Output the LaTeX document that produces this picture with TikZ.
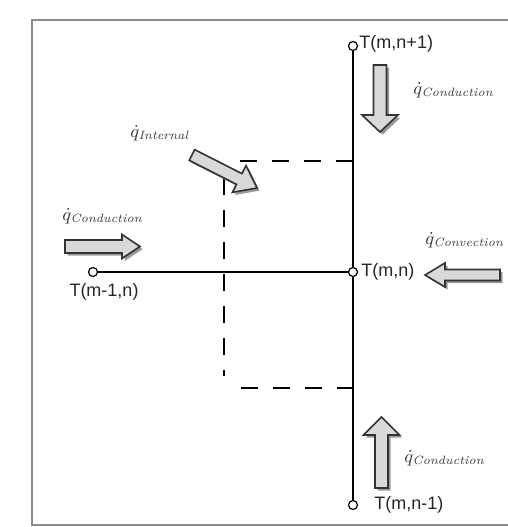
\documentclass[tikz,border=0pt]{standalone}
\usepackage{fontspec}
\newfontfamily\labelfont{Liberation Sans}
\usetikzlibrary{positioning}

% block arrow: #1 centre, #2 angle, #3 half length, #4 half shaft, #5 half head, #6 head length
\newcommand{\heatflow}[6]{%
  \fill[heatshadow, shift={#1}, xshift=1.3pt, yshift=-1.3pt, rotate=#2]
    (-#3,-#4) -- (#3-#6,-#4) -- (#3-#6,-#5) -- (#3,0pt) -- (#3-#6,#5) -- (#3-#6,#4) -- (-#3,#4) -- cycle;
  \filldraw[heat, shift={#1}, rotate=#2]
    (-#3,-#4) -- (#3-#6,-#4) -- (#3-#6,-#5) -- (#3,0pt) -- (#3-#6,#5) -- (#3-#6,#4) -- (-#3,#4) -- cycle;}

\begin{document}
\begin{tikzpicture}[
  x=0.5pt, y=-0.5pt, every node/.style={inner sep=0pt},
  pt/.style={circle, draw=black, fill=white, line width=0.6pt, minimum size=4.5pt},
  grid/.style={line width=1pt, black},
  cv/.style={line width=1pt, dash pattern=on 8.5pt off 7.5pt},
  heat/.style={draw=black!80, fill=black!15, line width=0.8pt, line join=miter},
  heatshadow/.style={fill=black!40},
  tlbl/.style={font=\labelfont\fontsize{9}{10}\selectfont, text=black!85},
  qlbl/.style={text=black!78, font=\fontsize{8.6}{10}\selectfont},
]
\clip (0,0) rectangle (508,527);
% frame
\draw[black!45, line width=1pt] (508,20) -- (32,20) -- (32,525) -- (508,525);
% grid points
\node[pt] (ctop)  at (353,46)  {};
\node[pt] (cmid)  at (353,272) {};
\node[pt] (cbot)  at (353,505) {};
\node[pt] (cleft) at (93,272)  {};
\draw[grid] (ctop) -- (cmid) -- (cbot);
\draw[grid] (cleft) -- (cmid);
% control volume
\draw[cv] (240,161) -- (353,161);
\draw[cv] (241,388) -- (353,388);
\draw[cv] (224,178) -- (224,376);
% node labels
\node[tlbl, anchor=west] (ltop) at ([xshift=0.5pt, yshift=1pt]ctop.east) {T(m,n+1)};
\node[tlbl, anchor=west] (lmid) at ([xshift=1.5pt]cmid.east) {T(m,n)};
\node[tlbl, anchor=west] (lbot) at ([xshift=8pt]cbot.east) {T(m,n-1)};
\node[tlbl, anchor=north] (lleft) at (104,283) {T(m-1,n)};
% heat flows
\heatflow{(380,98.5)}{-90}{16.75pt}{3.25pt}{9pt}{8.5pt}
\heatflow{(381.5,452.5)}{90}{17.75pt}{3.25pt}{9pt}{9pt}
\heatflow{(102.5,246.5)}{0}{18.75pt}{3.25pt}{6pt}{9pt}
\heatflow{(462.5,275)}{180}{18.75pt}{2.75pt}{6pt}{10pt}
\heatflow{(224.5,171.5)}{-26.9}{18.25pt}{3pt}{7.5pt}{10pt}
% flow labels
\node[qlbl, anchor=west] (lqtop) at (413,90) {$\dot{q}_{\mathit{Conduction}}$};
\node[qlbl, anchor=west] (lqbot) at (404,458) {$\dot{q}_{\mathit{Conduction}}$};
\node[qlbl, anchor=west] (lqleft) at (62,216) {$\dot{q}_{\mathit{Conduction}}$};
\node[qlbl, anchor=west] (lqright) at (425,240) {$\dot{q}_{\mathit{Convection}}$};
\node[qlbl, anchor=west] (lqint) at (130,133) {$\dot{q}_{\mathit{Internal}}$};
\end{tikzpicture}
\end{document}
